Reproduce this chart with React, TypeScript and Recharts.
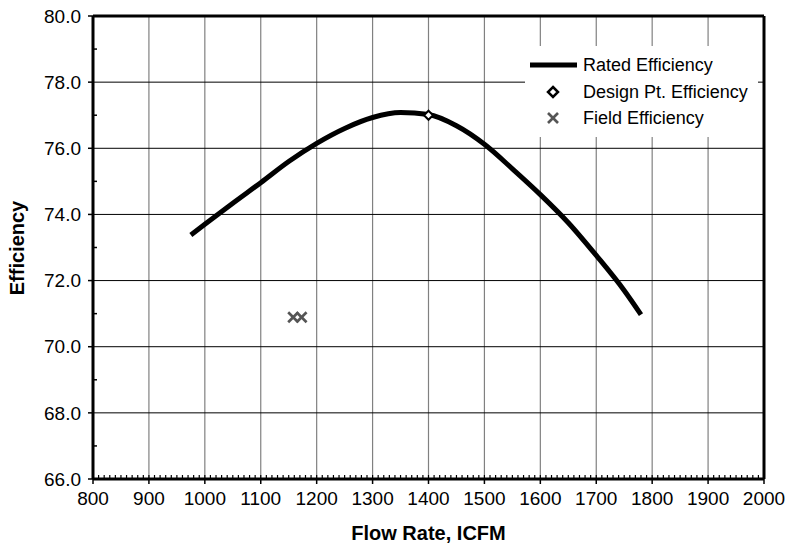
import React from 'react';
import {
  ComposedChart,
  Line,
  Scatter,
  XAxis,
  YAxis,
  CartesianGrid,
  ReferenceLine,
  Legend,
  Label,
} from 'recharts';

const FONT = '"Liberation Sans", Arial, Helvetica, sans-serif';

// Rated efficiency curve
const ratedFlow = [975, 1000, 1050, 1100, 1150, 1200, 1250, 1300, 1350, 1400, 1450, 1500, 1550, 1600, 1650, 1700, 1750, 1780];
const ratedEff = [73.38, 73.7, 74.34, 74.96, 75.6, 76.15, 76.6, 76.93, 77.08, 77.02, 76.68, 76.12, 75.38, 74.6, 73.75, 72.76, 71.7, 70.97];

// Design point
const designFlow = [1400];
const designEff = [77.0];

// Field measurements
const fieldFlow = [1158, 1173];
const fieldEff = [70.89, 70.89];

const xTicks = [800, 900, 1000, 1100, 1200, 1300, 1400, 1500, 1600, 1700, 1800, 1900, 2000];
const yTicks = [66, 68, 70, 72, 74, 76, 78, 80];
const yMinorTicks = [67, 69, 71, 73, 75, 77, 79];
const xMinorTicks = Array.from({ length: 121 }, (_, i) => 800 + i * 10);

const legendLabels = ['Rated Efficiency', 'Design Pt. Efficiency', 'Field Efficiency'];

const ratedData = ratedFlow.map((x, i) => ({ x, y: ratedEff[i] }));
const designData = designFlow.map((x, i) => ({ x, y: designEff[i] }));
const fieldData = fieldFlow.map((x, i) => ({ x, y: fieldEff[i] }));

const EmptyTick = () => <g />;

const DiamondShape = (props: any) => {
  const { cx, cy } = props;
  const r = 4.5;
  return (
    <polygon
      points={`${cx},${cy - r} ${cx + r},${cy} ${cx},${cy + r} ${cx - r},${cy}`}
      fill="#fff"
      stroke="#000"
      strokeWidth={2}
    />
  );
};

const CrossShape = (props: any) => {
  const { cx, cy } = props;
  const r = 5;
  return (
    <g stroke="#555" strokeWidth={2.6}>
      <line x1={cx - r} y1={cy - r} x2={cx + r} y2={cy + r} />
      <line x1={cx - r} y1={cy + r} x2={cx + r} y2={cy - r} />
    </g>
  );
};

const LegendBox = () => {
  const rows = [19, 46, 72];
  return (
    <div
      style={{
        width: 233,
        height: 91,
        background: '#fff',
        position: 'relative',
        fontFamily: FONT,
        fontSize: 18,
        color: '#000',
      }}
    >
      <svg width={233} height={91} style={{ position: 'absolute', left: 0, top: 0 }}>
        <line x1={5} x2={52} y1={rows[0]} y2={rows[0]} stroke="#000" strokeWidth={5} />
        <polygon
          points={`28,${rows[1] - 5} 33,${rows[1]} 28,${rows[1] + 5} 23,${rows[1]}`}
          fill="#fff"
          stroke="#000"
          strokeWidth={2.5}
        />
        <g stroke="#555" strokeWidth={2.6}>
          <line x1={23} y1={rows[2] - 5} x2={33} y2={rows[2] + 5} />
          <line x1={23} y1={rows[2] + 5} x2={33} y2={rows[2] - 5} />
        </g>
      </svg>
      {legendLabels.map((t, i) => (
        <div
          key={t}
          style={{
            position: 'absolute',
            left: 58,
            top: rows[i] - 11,
            lineHeight: '22px',
            height: 22,
            whiteSpace: 'nowrap',
          }}
        >
          {t}
        </div>
      ))}
    </div>
  );
};

export default function App() {
  return (
    <div style={{ position: 'absolute', left: 0, top: 0, width: 791, height: 545, background: '#fff' }}>
      <ComposedChart
        width={791}
        height={545}
        margin={{ top: 16, right: 27, left: 0, bottom: 0 }}
        style={{ fontFamily: FONT }}
      >
        <CartesianGrid vertical horizontal={false} stroke="#808080" strokeWidth={1.2} />
        <CartesianGrid vertical={false} horizontal stroke="#000" strokeWidth={1} />
        <XAxis
          xAxisId={0}
          dataKey="x"
          type="number"
          domain={[800, 2000]}
          ticks={xTicks}
          interval={0}
          allowDataOverflow
          height={66}
          tickSize={5}
          tickMargin={8}
          axisLine={{ stroke: '#000', strokeWidth: 3 }}
          tickLine={{ stroke: '#000', strokeWidth: 1.5 }}
          tick={{ fill: '#000', fontSize: 19, fontFamily: FONT }}
        >
          <Label
            content={(p: any) => {
              const vb = p.viewBox || { x: 93, y: 479, width: 671, height: 66 };
              return (
                <text
                  x={vb.x + vb.width / 2}
                  y={540}
                  textAnchor="middle"
                  fontSize={20}
                  fontWeight="bold"
                  fontFamily={FONT}
                  fill="#000"
                >
                  Flow Rate, ICFM
                </text>
              );
            }}
          />
        </XAxis>
        <XAxis
          xAxisId="minor"
          type="number"
          dataKey="x"
          domain={[800, 2000]}
          ticks={xMinorTicks}
          interval={0}
          allowDataOverflow
          mirror
          height={1}
          tickSize={4}
          axisLine={false}
          tickLine={{ stroke: '#000', strokeWidth: 1.2 }}
          tick={EmptyTick}
        />
        <YAxis
          yAxisId={0}
          dataKey="y"
          type="number"
          domain={[66, 80]}
          ticks={yTicks}
          interval={0}
          allowDataOverflow
          width={93}
          tickSize={5}
          tickMargin={7}
          tickFormatter={(v: number) => v.toFixed(1)}
          axisLine={{ stroke: '#000', strokeWidth: 3 }}
          tickLine={{ stroke: '#000', strokeWidth: 1.5 }}
          tick={{ fill: '#000', fontSize: 19, fontFamily: FONT }}
        >
          <Label
            content={() => (
              <text
                x={17}
                y={248}
                transform="rotate(-90, 17, 248)"
                textAnchor="middle"
                dy="0.36em"
                fontSize={20}
                fontWeight="bold"
                fontFamily={FONT}
                fill="#000"
              >
                Efficiency
              </text>
            )}
          />
        </YAxis>
        <YAxis
          yAxisId="minor"
          type="number"
          dataKey="y"
          domain={[66, 80]}
          ticks={yMinorTicks}
          interval={0}
          allowDataOverflow
          mirror
          width={1}
          tickSize={4}
          axisLine={false}
          tickLine={{ stroke: '#000', strokeWidth: 1.5 }}
          tick={EmptyTick}
        />
        <ReferenceLine y={80} stroke="#000" strokeWidth={3} />
        <ReferenceLine x={2000} stroke="#000" strokeWidth={3} />
        {/* invisible series binding the minor-tick axes */}
        <Line
          data={ratedData}
          dataKey="y"
          xAxisId="minor"
          yAxisId="minor"
          stroke="none"
          dot={false}
          activeDot={false}
          legendType="none"
          isAnimationActive={false}
        />
        <Line
          data={ratedData}
          dataKey="y"
          type="monotone"
          stroke="#000"
          strokeWidth={5}
          dot={false}
          activeDot={false}
          isAnimationActive={false}
          name="Rated Efficiency"
        />
        <Scatter
          data={fieldData}
          dataKey="y"
          shape={<CrossShape />}
          isAnimationActive={false}
          name="Field Efficiency"
        />
        <Scatter
          data={designData}
          dataKey="y"
          shape={<DiamondShape />}
          isAnimationActive={false}
          name="Design Pt. Efficiency"
        />
        <Legend
          layout="horizontal"
          verticalAlign="middle"
          align="center"
          content={() => <LegendBox />}
          wrapperStyle={{ left: 525, top: 46, width: 233, height: 91 }}
        />
      </ComposedChart>
    </div>
  );
}
